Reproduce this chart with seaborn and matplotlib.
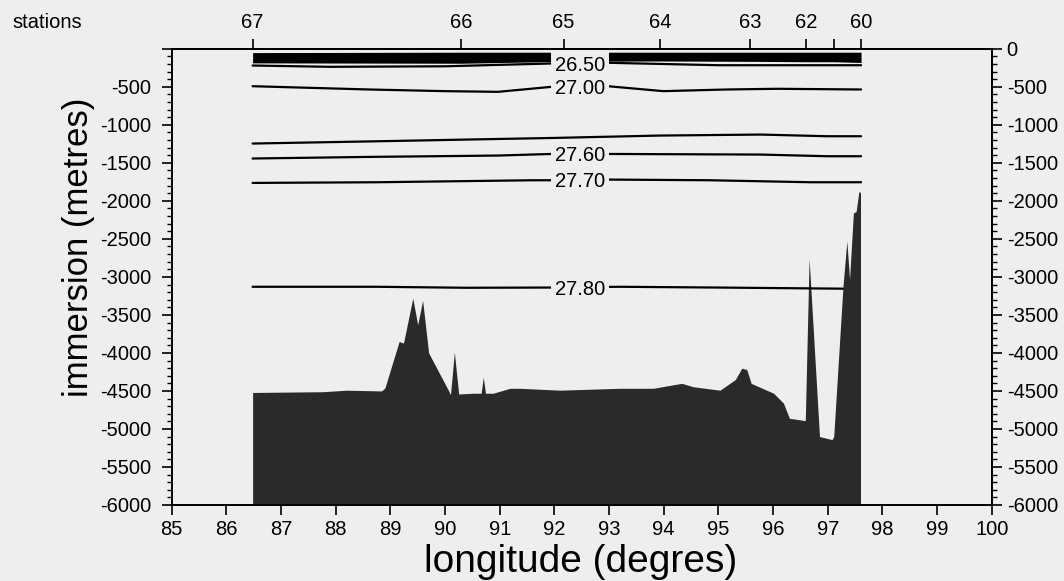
import matplotlib
matplotlib.use("Agg")
import matplotlib.pyplot as plt
from matplotlib.ticker import MultipleLocator
import numpy as np
import pandas as pd
import seaborn as sns

# Hydrographic stations along the section (longitude, degrees east)
station_names = ["67", "66", "65", "64", "63", "62", "", "60"]
station_lon = [86.48, 90.29, 92.17, 93.93, 95.58, 96.60, 97.12, 97.61]

# Bottom depth along the track (metres)
bathy_lon = [86.48, 87.77, 88.20, 88.84, 88.90, 89.16, 89.24, 89.41, 89.50,
             89.59, 89.70, 90.06, 90.10, 90.17, 90.25, 90.52, 90.66, 90.70,
             90.74, 90.88, 91.19, 91.37, 92.10, 93.20, 93.81, 94.33, 94.54,
             95.03, 95.31, 95.43, 95.52, 95.60, 96.01, 96.19, 96.30, 96.59,
             96.66, 96.85, 97.08, 97.11, 97.28, 97.35, 97.40, 97.47, 97.52,
             97.57, 97.60]
bathy_depth = [-4520, -4510, -4490, -4500, -4460, -3850, -3870, -3280, -3630,
               -3310, -4000, -4490, -4550, -3990, -4540, -4530, -4530, -4320,
               -4530, -4530, -4465, -4465, -4490, -4465, -4465, -4400, -4445,
               -4490, -4350, -4200, -4220, -4400, -4530, -4660, -4860, -4890,
               -2760, -5100, -5140, -5100, -3120, -2530, -3030, -2160, -2140,
               -1880, -1890]

# Tightly packed surface isopycnals, drawn as a solid band
band_top = [-50, -45, -45, -45, -45, -45, -45, -45]
band_bottom = [-185, -190, -165, -160, -165, -170, -170, -180]

# Isopycnal depths (sigma-theta contours)
iso_labels = ["26.50", "27.00", "", "27.60", "27.70", "27.80"]
iso_2650_lon = [86.48, 87.90, 90.00, 91.95, 92.98, 94.00, 95.00, 97.61]
iso_2650_dep = [-220, -237, -230, -193, -184, -200, -216, -216]
iso_2700_lon = [86.48, 88.60, 90.00, 90.97, 91.95, 92.98, 93.99, 95.16, 96.07, 97.61]
iso_2700_dep = [-492, -535, -557, -566, -500, -492, -557, -535, -526, -535]
iso_mid_lon = [86.48, 88.78, 90.97, 91.95, 93.93, 95.77, 96.99, 97.61]
iso_mid_dep = [-1246, -1216, -1186, -1173, -1141, -1128, -1150, -1150]
iso_2760_lon = [86.48, 88.59, 90.97, 91.95, 92.98, 95.77, 96.99, 97.61]
iso_2760_dep = [-1443, -1422, -1404, -1383, -1383, -1391, -1413, -1413]
iso_2770_lon = [86.48, 88.78, 91.59, 91.95, 92.98, 94.85, 96.68, 97.61]
iso_2770_dep = [-1764, -1755, -1729, -1729, -1720, -1729, -1755, -1755]
iso_2780_lon = [86.48, 88.75, 90.40, 91.92, 93.20, 95.00, 97.28]
iso_2780_dep = [-3130, -3130, -3143, -3140, -3130, -3140, -3155]

label_lon = 92.47

paper = "#eeeeee"
seafloor = "#2a2a2a"

sns.set_theme(style="ticks")
plt.rcParams["font.family"] = ["Liberation Sans", "DejaVu Sans"]
plt.rcParams["axes.edgecolor"] = "black"
plt.rcParams["text.color"] = "black"
plt.rcParams["xtick.color"] = "black"
plt.rcParams["ytick.color"] = "black"

fig = plt.figure(figsize=(10.64, 5.81), dpi=100, facecolor=paper)
ax = fig.add_axes([0.16137, 0.13081, 0.77068, 0.7852])
ax.set_facecolor(paper)

# Sea floor
ax.fill_between(bathy_lon, bathy_depth, -6000, color=seafloor, lw=0, zorder=2)

# Surface band
ax.fill_between(station_lon, band_top, band_bottom, color="black", lw=0, zorder=3)

# Isopycnals
iso_sets = [
    (iso_2650_lon, iso_2650_dep),
    (iso_2700_lon, iso_2700_dep),
    (iso_mid_lon, iso_mid_dep),
    (iso_2760_lon, iso_2760_dep),
    (iso_2770_lon, iso_2770_dep),
    (iso_2780_lon, iso_2780_dep),
]
rows = []
for k, (lons, deps) in enumerate(iso_sets):
    for lo, de in zip(lons, deps):
        rows.append({"level": f"c{k}", "lon": lo, "depth": de})
iso_df = pd.DataFrame(rows)
sns.lineplot(data=iso_df, x="lon", y="depth", hue="level",
             palette=["black"] * len(iso_sets), legend=False, sort=False,
             estimator=None, lw=1.6, ax=ax, zorder=4)

for lab, (lons, deps) in zip(iso_labels, iso_sets):
    if not lab:
        continue
    y = np.interp(label_lon, lons, deps)
    ax.text(label_lon, y, lab, ha="center", va="center_baseline", fontsize=14.5,
            bbox=dict(boxstyle="square,pad=0.2", fc=paper, ec="none"), zorder=6)

# Axes limits and ticks
ax.set_xlim(85, 100)
ax.set_ylim(-6000, 0)
ax.set_xticks(range(85, 101))
ax.set_xticklabels([str(v) for v in range(85, 101)])
yt = list(range(-6000, 1, 500))
ax.set_yticks(yt)
ax.set_yticklabels([str(v) if v != 0 else "" for v in yt])
ax.yaxis.set_minor_locator(MultipleLocator(100))
ax.set_xlabel("")
ax.set_ylabel("")
ax.tick_params(axis="x", which="major", direction="out", length=7, width=1.2,
               pad=4, labelsize=14.5, top=False)
ax.tick_params(axis="y", which="major", direction="out", length=7.5, width=1.2,
               pad=7, labelsize=14.5, right=False)
ax.tick_params(axis="y", which="minor", direction="out", length=3.6, width=1.0,
               right=False)
for s in ax.spines.values():
    s.set_visible(True)
    s.set_linewidth(1.4)
    s.set_color("black")

# Right depth axis
sec_r = ax.secondary_yaxis("right")
sec_r.set_yticks(yt)
sec_r.set_yticklabels([str(v) for v in yt])
sec_r.yaxis.set_minor_locator(MultipleLocator(100))
sec_r.tick_params(axis="y", which="major", direction="out", length=7.5, width=1.2,
                  pad=3.3, labelsize=14.5)
sec_r.tick_params(axis="y", which="minor", direction="out", length=3.6, width=1.0)
sec_r.spines["right"].set_linewidth(1.4)

# Station axis on top
sec_t = ax.secondary_xaxis("top")
sec_t.set_xticks(station_lon)
sec_t.set_xticklabels(station_names)
sec_t.tick_params(axis="x", which="major", direction="out", length=7.2, width=1.2,
                  pad=5, labelsize=14.5)
sec_t.spines["top"].set_linewidth(1.4)

fig.text(12.7 / 1064, 1 - 22.5 / 581, "stations", ha="left", va="center",
         fontsize=14.5)
fig.text(79 / 1064, 1 - 247 / 581, "immersion (metres)", rotation=90,
         ha="center", va="center", fontsize=25)
fig.text(581 / 1064, 1 - 571.7 / 581, "longitude (degres)", ha="center",
         va="baseline", fontsize=28)

fig.savefig("out.png", dpi=100, facecolor=paper)
